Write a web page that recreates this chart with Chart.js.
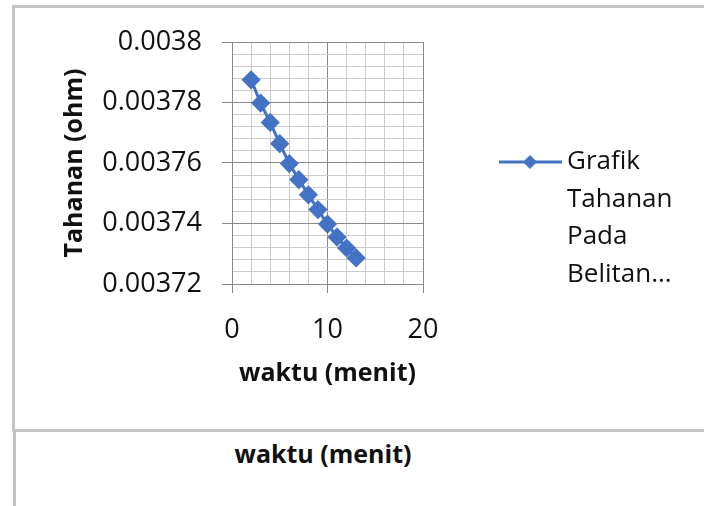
<!DOCTYPE html>
<html>
<head>
<meta charset="utf-8">
<script src="https://cdn.jsdelivr.net/npm/chart.js@4"></script>
<style>
    body { margin: 0; background: #fff; width: 704px; height: 506px; overflow: hidden; position: relative; font-family: "Open Sans", sans-serif; }
    #box1 { position: absolute; left: 12px; top: 5px; width: 760px; height: 421px; border-left: 3px solid #c4c4c4; border-top: 3px solid #c4c4c4; border-bottom: 3px solid #c4c4c4; }
    #box2 { position: absolute; left: 13px; top: 430px; width: 760px; height: 100px; border-left: 3px solid #c4c4c4; }
    #below { position: absolute; left: 213px; width: 220px; top: 436px; text-align: center; font-weight: bold; font-size: 25px; color: #111; }
    #wrap { position: absolute; left: 0; top: 0; width: 704px; height: 506px; }
</style>
</head>
<body>
<div id="box1"></div>
<div id="box2"></div>
<div id="below">waktu (menit)</div>
<div id="wrap"><canvas id="chart"></canvas></div>
<script>
    // values
    const waktu = [2, 3, 4, 5, 6, 7, 8, 9, 10, 11, 12, 13];
    const tahanan = [0.0037875, 0.0037798, 0.0037734, 0.0037664, 0.0037598, 0.0037545,
        0.0037495, 0.0037446, 0.0037398, 0.0037355, 0.0037319, 0.0037286];
    const legendLines = ['Grafik', 'Tahanan', 'Pada', 'Belitan...'];
    const xTitle = 'waktu (menit)';
    const yTitle = 'Tahanan (ohm)';

    const blue = '#4472C4';
    const majorGrid = '#8a8a8a';
    const minorGrid = '#cbcbcb';
    const textColor = '#111';

    function isMajor(ctx) { return ctx.index % 5 === 0; }

    // legend drawn by hand so the label can wrap over several lines
    const sideLegend = {
        id: 'sideLegend',
        afterDraw(chart) {
            const ctx = chart.ctx;
            const ds = chart.data.datasets[0];
            const x0 = chart.chartArea.right + 76;
            const y0 = 162;
            ctx.save();
            ctx.strokeStyle = ds.borderColor;
            ctx.lineWidth = 3;
            ctx.beginPath();
            ctx.moveTo(x0, y0);
            ctx.lineTo(x0 + 63, y0);
            ctx.stroke();
            const cx = x0 + 31, r = 7;
            ctx.fillStyle = ds.backgroundColor;
            ctx.beginPath();
            ctx.moveTo(cx, y0 - r);
            ctx.lineTo(cx + r, y0);
            ctx.lineTo(cx, y0 + r);
            ctx.lineTo(cx - r, y0);
            ctx.closePath();
            ctx.fill();
            ctx.fillStyle = textColor;
            ctx.font = '26px "Open Sans"';
            ctx.textBaseline = 'middle';
            legendLines.forEach(function (line, i) {
                ctx.fillText(line, x0 + 68, y0 + i * 37.5);
            });
            ctx.restore();
        }
    };

    new Chart(document.getElementById('chart'), {
        type: 'scatter',
        data: {
            datasets: [{
                label: legendLines.join(' '),
                data: waktu.map((w, i) => ({ x: w, y: tahanan[i] })),
                showLine: true,
                borderColor: blue,
                backgroundColor: blue,
                borderWidth: 3,
                pointStyle: 'rectRot',
                pointRadius: 7.5,
                pointHoverRadius: 7.5
            }]
        },
        options: {
            responsive: true,
            maintainAspectRatio: false,
            animation: false,
            layout: { padding: { left: 56, top: 42, right: 281, bottom: 113 } },
            plugins: {
                legend: { display: false },
                tooltip: { enabled: false }
            },
            scales: {
                x: {
                    type: 'linear', min: 0, max: 20,
                    afterFit: function (scale) { scale.height = 109; },
                    ticks: {
                        stepSize: 2, autoSkip: false, maxRotation: 0, padding: 21,
                        color: textColor, font: { family: 'Open Sans', size: 27 },
                        callback: (v, i) => i % 5 === 0 ? String(v) : ''
                    },
                    grid: {
                        color: ctx => isMajor(ctx) ? majorGrid : minorGrid,
                        tickColor: ctx => isMajor(ctx) ? majorGrid : 'rgba(0,0,0,0)',
                        tickLength: 9
                    },
                    border: { color: majorGrid },
                    title: {
                        display: true, text: xTitle, color: textColor,
                        font: { family: 'Open Sans', size: 25, weight: 'bold' }
                    }
                },
                y: {
                    type: 'linear', min: 0.00372, max: 0.0038,
                    afterFit: function (scale) { scale.width = 176; },
                    ticks: {
                        stepSize: 0.000004, autoSkip: false, padding: 20,
                        color: textColor, font: { family: 'Open Sans', size: 27 },
                        callback: (v, i) => i % 5 === 0 ? String(Number(v.toFixed(5))) : ''
                    },
                    grid: {
                        color: ctx => isMajor(ctx) ? majorGrid : minorGrid,
                        tickColor: ctx => isMajor(ctx) ? majorGrid : 'rgba(0,0,0,0)',
                        tickLength: 10
                    },
                    border: { color: majorGrid },
                    title: {
                        display: true, text: yTitle, color: textColor,
                        font: { family: 'Open Sans', size: 25, weight: 'bold' }
                    }
                }
            }
        },
        plugins: [sideLegend]
    });
</script>
</body>
</html>
